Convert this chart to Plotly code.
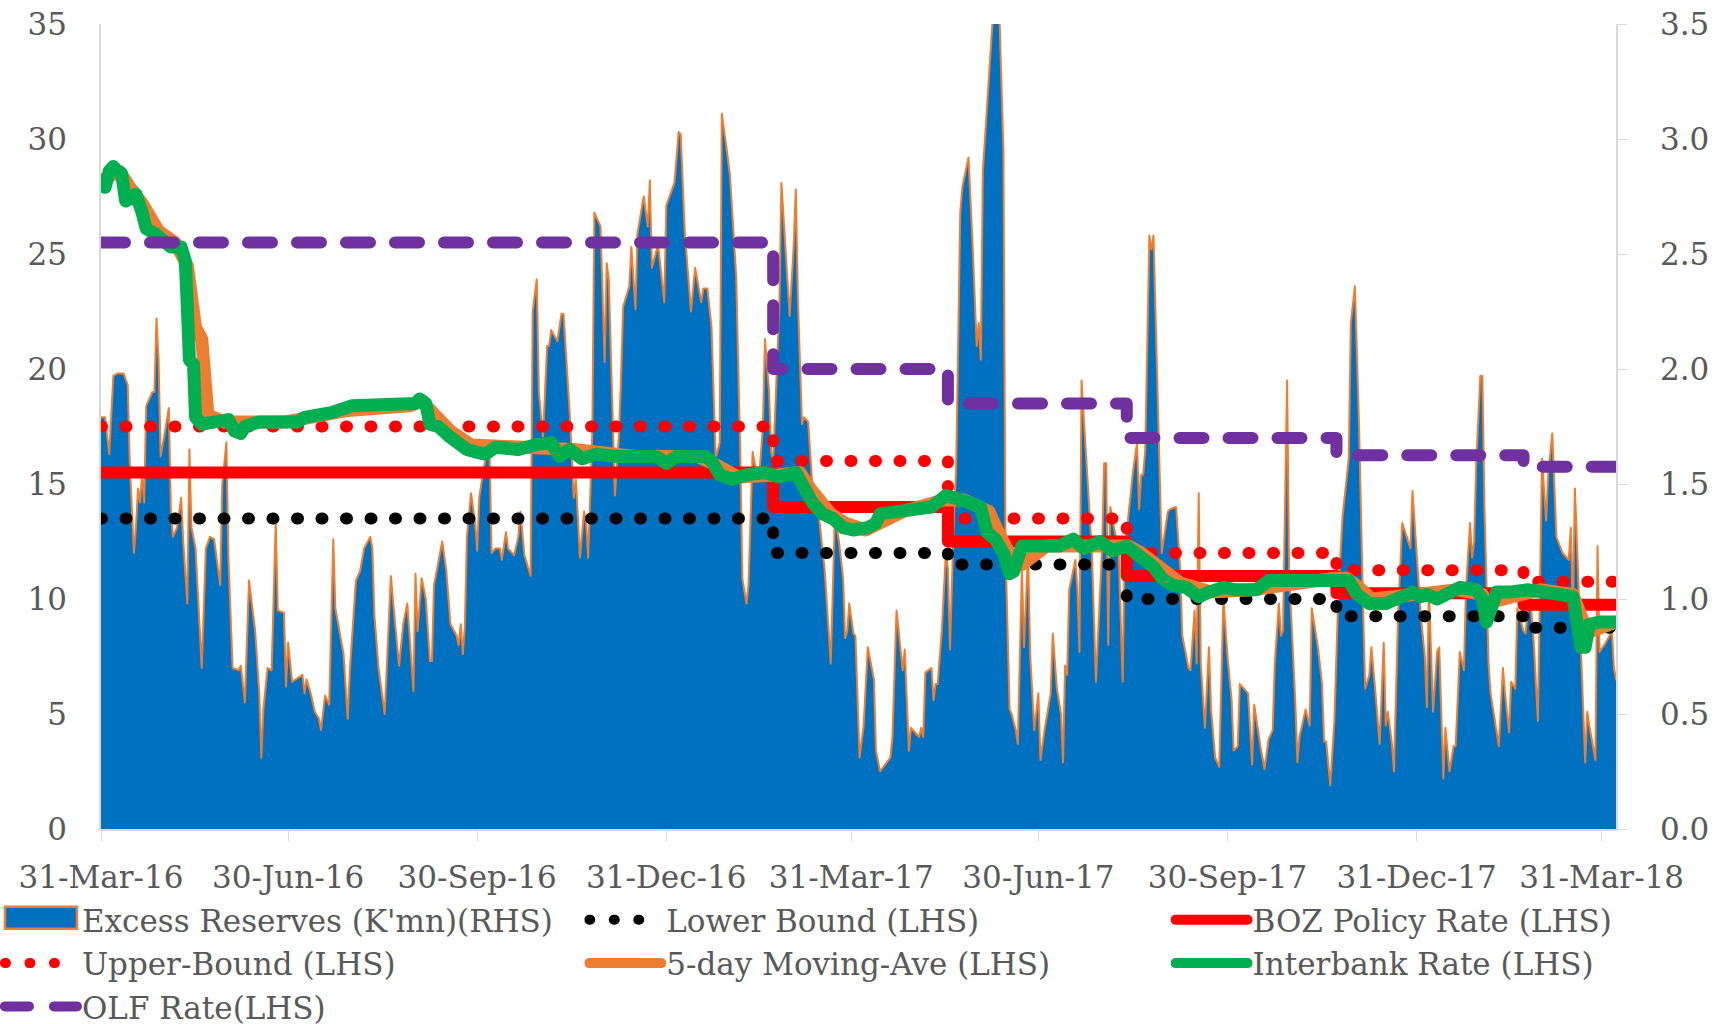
import pandas as pd
import plotly.graph_objects as go

# ---------------------------------------------------------------
# Data. Days are counted from 31-Mar-2016.
# ---------------------------------------------------------------
start = pd.Timestamp("2016-03-31")

reserve_day = [
    0, 2, 4, 6, 8, 11, 13, 14, 16, 17, 18, 19, 20, 21, 22, 25, 26, 27, 28, 29,
    31, 33, 34, 35, 37, 39, 40, 42, 43, 44, 46, 49, 51, 53, 55, 58, 59, 61, 62, 64,
    67, 68, 70, 72, 75, 77, 78, 79, 81, 83, 85, 86, 89, 90, 91, 93, 98, 99, 100, 102,
    104, 106, 107, 109, 111, 113, 114, 118, 120, 121, 124, 126, 128, 131, 132, 133, 135, 138, 139, 141,
    143, 145, 147, 149, 152, 153, 154, 156, 158, 160, 161, 162, 166, 168, 170, 173, 174, 175, 176, 177,
    178, 180, 182, 183, 184, 186, 188, 189, 190, 192, 194, 195, 197, 198, 201, 203, 204, 206, 209, 210,
    212, 213, 215, 217, 218, 219, 222, 224, 225, 228, 230, 231, 233, 235, 236, 237, 239, 240, 243, 245,
    246, 247, 250, 252, 253, 254, 257, 258, 260, 261, 264, 266, 267, 268, 271, 273, 274, 275, 279, 281,
    282, 284, 287, 289, 292, 293, 295, 297, 299, 301, 302, 304, 306, 309, 311, 312, 314, 315, 317, 319,
    320, 322, 323, 325, 326, 327, 330, 331, 333, 335, 337, 338, 339, 341, 342, 344, 346, 349, 352, 354,
    355, 357, 359, 361, 362, 363, 364, 366, 367, 369, 371, 373, 376, 377, 379, 384, 385, 387, 389, 390,
    391, 393, 394, 398, 399, 400, 401, 404, 405, 406, 407, 409, 411, 412, 413, 415, 416, 418, 419, 422,
    424, 426, 427, 428, 429, 431, 433, 434, 437, 439, 440, 442, 443, 445, 446, 448, 449, 451, 452, 454,
    456, 457, 459, 461, 462, 463, 465, 467, 468, 469, 470, 471, 474, 475, 476, 477, 479, 481, 482, 484,
    487, 488, 489, 490, 491, 493, 495, 497, 498, 500, 502, 504, 505, 506, 507, 508, 510, 511, 512, 514,
    516, 517, 519, 520, 523, 525, 526, 528, 529, 530, 532, 533, 534, 535, 537, 539, 540, 542, 544, 546,
    548, 550, 551, 553, 554, 556, 558, 560, 561, 564, 566, 568, 570, 571, 573, 574, 575, 577, 578, 581,
    582, 583, 586, 588, 589, 592, 594, 595, 596, 598, 600, 602, 604, 607, 608, 610, 612, 614, 615, 617,
    618, 620, 622, 624, 625, 626, 628, 629, 631, 633, 635, 637, 638, 640, 642, 644, 645, 646, 648, 650,
    651, 653, 654, 656, 658, 659, 661, 663, 664, 666, 667, 668, 669, 671, 672, 673, 675, 676, 678, 680,
    682, 683, 685, 686, 688, 689, 692, 693, 695, 697, 699, 701, 703, 704, 706, 708, 711, 714, 715, 716,
    717, 719, 720, 722, 723, 724, 727, 728, 729, 732, 735, 736, 737,
]
reserve_kmn = [
    1.79, 1.79, 1.63, 1.97, 1.98, 1.98, 1.93, 1.59, 1.20, 1.31, 1.48, 1.42, 1.54, 1.42, 1.84, 1.90, 1.90, 2.22, 2.04, 1.62,
    1.72, 1.83, 1.38, 1.27, 1.31, 1.44, 1.25, 0.98, 1.65, 1.31, 1.22, 0.70, 1.22, 1.27, 1.26, 1.06, 1.50, 1.68, 1.18, 0.70,
    0.69, 0.71, 0.55, 1.08, 0.86, 0.59, 0.31, 0.52, 0.70, 0.69, 1.33, 0.95, 0.94, 0.62, 0.81, 0.64, 0.67, 0.59, 0.65, 0.59,
    0.51, 0.48, 0.43, 0.58, 0.54, 1.26, 0.96, 0.76, 0.48, 0.68, 1.08, 1.12, 1.22, 1.27, 1.22, 0.93, 0.70, 0.50, 0.70, 1.10,
    0.90, 0.71, 0.89, 0.98, 0.60, 1.11, 0.86, 1.09, 1.00, 0.73, 0.73, 1.06, 1.25, 1.12, 0.89, 0.84, 0.80, 0.89, 0.76, 0.88,
    1.27, 1.46, 1.33, 1.21, 1.44, 1.56, 1.65, 1.65, 1.20, 1.22, 1.22, 1.17, 1.29, 1.22, 1.19, 1.27, 1.38, 1.19, 1.10, 2.25,
    2.39, 1.90, 1.70, 2.10, 2.10, 2.17, 2.12, 2.24, 2.24, 1.81, 1.44, 1.52, 1.18, 1.38, 1.33, 1.18, 1.72, 2.68, 2.62, 2.03,
    2.46, 2.39, 1.45, 1.72, 1.97, 2.27, 2.36, 2.53, 2.26, 2.59, 2.75, 2.62, 2.82, 2.44, 2.54, 2.36, 2.29, 2.71, 2.81, 3.03,
    3.02, 2.59, 2.25, 2.44, 2.29, 2.35, 2.35, 2.18, 1.61, 1.68, 3.11, 2.98, 2.84, 2.40, 1.63, 1.09, 0.98, 1.06, 1.64, 1.54,
    1.51, 1.75, 2.13, 1.90, 1.64, 1.60, 2.27, 2.81, 2.54, 2.23, 2.54, 2.78, 2.31, 1.76, 1.79, 1.77, 1.50, 1.38, 1.13, 0.86,
    0.72, 1.36, 1.25, 1.09, 0.83, 0.86, 0.98, 0.85, 0.84, 0.31, 0.45, 0.79, 0.65, 0.34, 0.25, 0.31, 0.40, 0.95, 0.78, 0.69,
    0.78, 0.34, 0.44, 0.40, 0.44, 0.40, 0.68, 0.70, 0.56, 0.63, 0.63, 0.86, 1.20, 1.13, 0.78, 1.38, 1.56, 2.68, 2.79, 2.92,
    2.54, 2.10, 2.20, 2.04, 2.86, 3.13, 3.36, 3.55, 3.55, 2.95, 1.22, 0.52, 0.50, 0.43, 0.37, 1.13, 0.79, 1.20, 0.76, 0.43,
    0.59, 0.30, 0.43, 0.54, 0.59, 0.85, 0.61, 0.50, 0.29, 0.71, 0.67, 1.04, 1.17, 1.04, 0.77, 1.95, 1.64, 1.33, 1.21, 0.64,
    1.22, 1.59, 1.59, 0.80, 1.40, 1.30, 1.22, 0.64, 1.20, 1.38, 1.55, 1.68, 1.39, 1.54, 1.54, 1.65, 2.58, 2.52, 2.58, 1.90,
    1.20, 1.26, 1.38, 1.39, 1.40, 1.13, 0.84, 0.75, 0.70, 0.69, 0.95, 0.72, 1.46, 0.72, 0.44, 0.79, 0.52, 0.31, 0.27, 1.00,
    0.75, 0.56, 0.34, 0.36, 0.63, 0.61, 0.59, 0.28, 0.54, 0.36, 0.26, 0.39, 0.43, 0.72, 0.98, 0.84, 0.86, 1.95, 1.11, 0.55,
    0.29, 0.40, 0.52, 0.45, 0.96, 0.79, 0.63, 0.38, 0.38, 0.19, 0.47, 1.04, 1.36, 1.61, 2.20, 2.36, 1.75, 0.95, 0.61, 0.67,
    0.79, 0.59, 0.37, 0.81, 0.45, 0.51, 0.37, 0.25, 0.93, 1.33, 1.27, 1.22, 1.47, 1.20, 0.93, 0.75, 0.53, 1.04, 0.51, 0.77,
    0.79, 0.22, 0.44, 0.25, 0.36, 0.36, 0.77, 0.69, 1.04, 1.33, 1.18, 1.25, 1.59, 1.97, 1.97, 1.40, 0.72, 0.59, 0.47, 0.36,
    0.70, 0.59, 0.42, 0.64, 0.61, 0.96, 0.86, 0.85, 1.04, 0.81, 0.47, 1.61, 1.34, 1.54, 1.72, 1.27, 1.20, 1.17, 1.31, 0.93,
    1.48, 1.00, 0.84, 0.29, 0.51, 0.45, 0.30, 1.23, 0.77, 0.81, 0.86, 0.70, 0.65,
]

interbank_day = [
    0, 2, 4, 6, 8, 10, 12, 15, 17, 20, 22, 26, 29, 34, 39, 41, 42, 43, 45, 46,
    49, 54, 58, 62, 65, 68, 70, 77, 88, 96, 99, 106, 112, 122, 132, 146, 153, 155, 158, 160,
    164, 169, 173, 178, 182, 187, 192, 198, 203, 211, 219, 223, 228, 234, 241, 250, 260, 270, 275, 280,
    286, 294, 297, 301, 307, 314, 323, 330, 338, 343, 346, 351, 356, 361, 366, 373, 377, 379, 387, 395,
    404, 411, 416, 422, 428, 431, 435, 439, 442, 444, 448, 453, 458, 466, 473, 478, 486, 492, 499, 504,
    508, 512, 516, 521, 528, 534, 539, 546, 552, 562, 568, 577, 585, 594, 601, 607, 611, 617, 625, 630,
    635, 638, 642, 645, 650, 653, 661, 669, 672, 674, 677, 679, 685, 694, 702, 710, 716, 718, 720, 722,
    724, 729, 737,
]
interbank_rate = [
    28.0, 27.9, 28.6, 28.8, 28.6, 28.5, 27.3, 27.6, 27.6, 26.8, 26.1, 25.9, 25.6, 25.3, 25.3, 24.7, 22.7, 20.4, 20.2, 17.9,
    17.6, 17.7, 17.7, 17.8, 17.3, 17.2, 17.5, 17.7, 17.7, 17.7, 17.9, 18.0, 18.1, 18.4, 18.4, 18.4, 18.5, 18.7, 18.5, 17.6,
    17.5, 17.1, 16.8, 16.5, 16.4, 16.3, 16.6, 16.6, 16.5, 16.7, 16.8, 16.2, 16.5, 16.1, 16.3, 16.2, 16.2, 16.2, 15.9, 16.2,
    16.2, 16.2, 16.0, 15.4, 15.2, 15.4, 15.5, 15.3, 15.5, 14.7, 14.2, 13.7, 13.5, 13.1, 13.0, 13.1, 13.3, 13.7, 13.8, 13.9,
    14.0, 14.5, 14.3, 14.2, 14.0, 12.9, 12.6, 12.0, 11.1, 11.2, 12.3, 12.3, 12.3, 12.3, 12.6, 12.2, 12.5, 12.1, 12.3, 12.0,
    11.8, 11.4, 10.9, 10.6, 10.5, 10.1, 10.3, 10.5, 10.4, 10.4, 10.8, 10.8, 10.8, 10.9, 10.9, 10.8, 10.2, 9.8, 9.8, 10.0,
    10.2, 10.3, 10.1, 10.2, 10.0, 10.1, 10.5, 10.4, 10.0, 9.0, 9.8, 10.3, 10.3, 10.4, 10.3, 10.2, 10.1, 9.0, 7.9, 7.9,
    8.9, 9.0, 9.0,
]

ma_day = [
    0, 5, 9, 14, 20, 28, 36, 42, 44, 46, 49, 52, 60, 90, 120, 150, 156, 163, 170, 180,
    200, 230, 260, 290, 300, 310, 330, 340, 345, 350, 355, 362, 372, 390, 410, 420, 432, 436, 440, 444,
    448, 460, 480, 500, 506, 512, 518, 525, 540, 560, 600, 606, 612, 618, 640, 660, 672, 675, 678, 700,
    716, 719, 722, 725, 737,
]
ma_rate = [
    28.2, 28.4, 28.6, 27.9, 27.2, 26.0, 25.5, 24.5, 22.5, 21.8, 21.3, 18.0, 17.7, 17.7, 18.2, 18.4, 18.6, 18.0, 17.3, 16.7,
    16.6, 16.5, 16.2, 16.2, 15.8, 15.3, 15.4, 15.5, 14.8, 14.2, 13.7, 13.3, 13.0, 13.8, 14.3, 14.3, 13.8, 13.0, 12.4, 11.6,
    11.5, 12.3, 12.3, 12.3, 12.0, 11.6, 11.1, 10.7, 10.3, 10.4, 10.9, 10.9, 10.5, 10.0, 10.2, 10.4, 10.2, 9.6, 9.9, 10.4,
    10.2, 9.6, 8.8, 8.6, 9.0,
]

# policy changes (step series)
policy_day = [0, 327, 412, 499, 601, 692, 737]
policy_rate = [15.5, 14.0, 12.5, 11.0, 10.25, 9.75, 9.75]
upper_bound = [17.5, 16.0, 13.5, 12.0, 11.25, 10.75, 10.75]
lower_bound = [13.5, 12.0, 11.5, 10.0, 9.25, 8.75, 8.75]
olf_rate = [25.5, 20.0, 18.5, 17.0, 16.25, 15.75, 15.75]

tick_dates = ["2016-03-31", "2016-06-30", "2016-09-30", "2016-12-31", "2017-03-31",
              "2017-06-30", "2017-09-30", "2017-12-31", "2018-03-31"]
tick_text = ["31-Mar-16", "30-Jun-16", "30-Sep-16", "31-Dec-16", "31-Mar-17",
             "30-Jun-17", "30-Sep-17", "31-Dec-17", "31-Mar-18"]


def to_dates(days):
    return start + pd.to_timedelta(days, unit="D")


FONT = "DejaVu Serif"
GREY = "#595959"
AXIS = "#D9D9D9"

fig = go.Figure()

# excess reserves area (right axis, drawn first so it sits underneath)
fig.add_trace(go.Scatter(
    x=to_dates(reserve_day), y=reserve_kmn, name="Excess Reserves (K'mn)(RHS)",
    mode="lines", fill="tozeroy", fillcolor="#0070C0",
    line=dict(color="#ED7D31", width=2), yaxis="y", legend="legend"))

fig.add_trace(go.Scatter(
    x=to_dates(policy_day), y=lower_bound, name="Lower Bound (LHS)", mode="lines",
    line=dict(color="#000000", width=12, dash="1px,23.5px", shape="hv"),
    yaxis="y2", legend="legend2"))

fig.add_trace(go.Scatter(
    x=to_dates(policy_day), y=policy_rate, name="BOZ Policy Rate (LHS)", mode="lines",
    line=dict(color="#FF0000", width=12, shape="hv"),
    yaxis="y2", legend="legend3"))

fig.add_trace(go.Scatter(
    x=to_dates(policy_day), y=upper_bound, name="Upper-Bound (LHS)", mode="lines",
    line=dict(color="#FF0000", width=12, dash="1px,23.5px", shape="hv"),
    yaxis="y2", legend="legend"))

fig.add_trace(go.Scatter(
    x=to_dates(ma_day), y=ma_rate, name="5-day Moving-Ave (LHS)", mode="lines",
    line=dict(color="#ED7D31", width=13),
    yaxis="y2", legend="legend2"))

fig.add_trace(go.Scatter(
    x=to_dates(interbank_day), y=interbank_rate, name="Interbank Rate (LHS)", mode="lines",
    line=dict(color="#00B050", width=13),
    yaxis="y2", legend="legend3"))

fig.add_trace(go.Scatter(
    x=to_dates(policy_day), y=olf_rate, name="OLF Rate(LHS)", mode="lines",
    line=dict(color="#7030A0", width=12, dash="24px,25px", shape="hv"),
    yaxis="y2", legend="legend"))

legend_style = dict(orientation="v", xanchor="left", yanchor="top", y=-0.0797,
                    itemwidth=72, bgcolor="rgba(0,0,0,0)", tracegroupgap=0,
                    font=dict(family=FONT, size=31, color=GREY))

fig.update_layout(
    width=1727, height=1024,
    margin=dict(l=101, r=111, t=24, b=195, autoexpand=False),
    plot_bgcolor="white", paper_bgcolor="white",
    font=dict(family=FONT, size=31, color=GREY),
    showlegend=True,
    legend=dict(x=-0.0667, **legend_style),
    legend2=dict(x=0.319, **legend_style),
    legend3=dict(x=0.706, **legend_style),
    xaxis=dict(type="date", range=["2016-03-31", "2018-04-07"],
               tickvals=tick_dates, ticktext=tick_text,
               showgrid=False, showline=True, linecolor=AXIS, linewidth=1.5,
               ticks="outside", ticklen=10, tickcolor=AXIS, ticklabelstandoff=10,
               tickfont=dict(family=FONT, size=31, color=GREY)),
    yaxis=dict(side="right", range=[0, 3.5], dtick=0.5, tickformat=".1f",
               showgrid=False, zeroline=False, showline=True, linecolor=AXIS, linewidth=1.5,
               ticks="outside", ticklen=9, tickcolor=AXIS, ticklabelstandoff=27,
               tickfont=dict(family=FONT, size=31, color=GREY)),
    yaxis2=dict(side="left", overlaying="y", range=[0, 35], dtick=5,
                showgrid=False, zeroline=False, showline=True, linecolor=AXIS, linewidth=1.5,
                ticks="", ticklabelstandoff=26,
                tickfont=dict(family=FONT, size=31, color=GREY)),
)

# round dots / dash ends like the original, and a boxed legend swatch for the area
post = """
var s = document.createElement('style');
s.innerHTML = 'body{margin:0;}'
  + ' .scatterlayer path.js-line, .legendlines path {stroke-linecap:round; stroke-linejoin:round;}'
  + ' .legend .legendfill path {transform-box:fill-box; transform-origin:50% 50%;'
  + ' transform: translate(0px,-3px) scale(1,3.67);'
  + ' stroke:#ED7D31 !important; stroke-width:2.5px !important; vector-effect:non-scaling-stroke;}'
  + ' .legend .traces:has(.legendfill path) .legendlines path {display:none;}';
document.head.appendChild(s);
"""

fig.write_html("out.html", post_script=post, config={"displayModeBar": False})
